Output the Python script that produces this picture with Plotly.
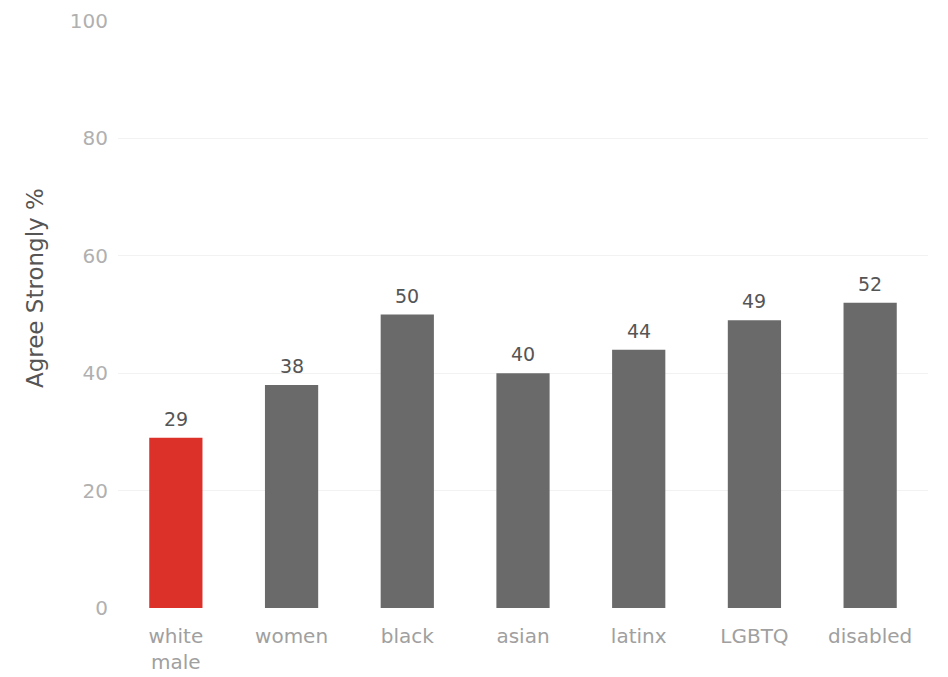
import plotly.graph_objects as go

categories = ["white<br>male", "women", "black", "asian", "latinx", "LGBTQ", "disabled"]
values = [29, 38, 50, 40, 44, 49, 52]
colors = ["#db3129", "#6a6a6a", "#6a6a6a", "#6a6a6a", "#6a6a6a", "#6a6a6a", "#6a6a6a"]
y_ticks = [0, 20, 40, 60, 80, 100]
y_title = "Agree Strongly %"

FONT = "DejaVu Sans"

fig = go.Figure(go.Bar(
    x=categories, y=values,
    marker=dict(color=colors, line=dict(width=0)),
    cliponaxis=False,
))

for c, v in zip(categories, values):
    fig.add_annotation(x=c, y=v, text=str(v), showarrow=False, yanchor="bottom", yshift=6,
                       font=dict(family=FONT, size=19, color="#555555"))

fig.add_annotation(xref="paper", yref="paper", x=-0.1025, y=0.545, text=y_title, textangle=-90,
                   showarrow=False, xanchor="center", yanchor="middle",
                   font=dict(family=FONT, size=23, color="#555555"))

fig.update_layout(
    width=948, height=677,
    margin=dict(l=110, r=28, t=13, b=77),
    plot_bgcolor="white", paper_bgcolor="white",
    bargap=0.54,
    showlegend=False,
    font=dict(family=FONT, color="#999999", size=14),
    xaxis=dict(showgrid=False, showline=False, ticks="outside", ticklen=10, tickcolor="rgba(0,0,0,0)",
               tickfont=dict(family=FONT, size=20, color="#a0a0a0"), automargin=False),
    yaxis=dict(range=[0, 100], tickvals=y_ticks, showgrid=True, gridcolor="#f2f2f2",
               zeroline=False, ticks="outside", ticklen=5, tickcolor="rgba(0,0,0,0)",
               ticklabeloverflow="allow",
               tickfont=dict(family=FONT, size=20, color="#b0b0b0"), automargin=False),
)

fig.write_html("out.html")
